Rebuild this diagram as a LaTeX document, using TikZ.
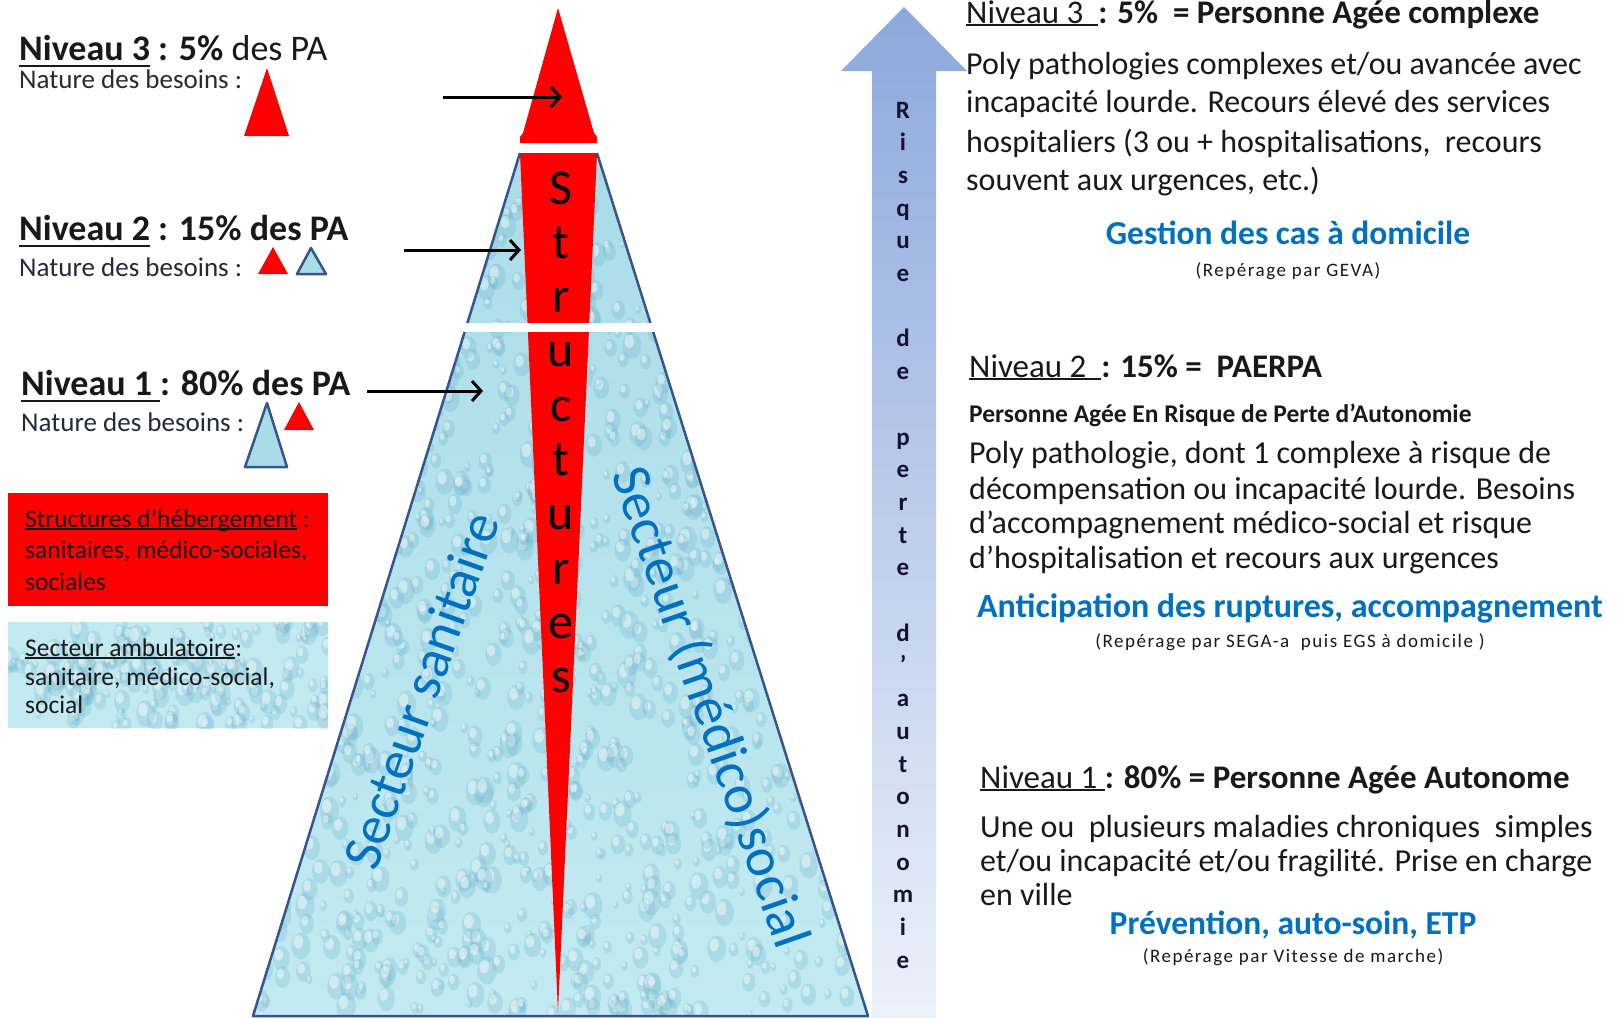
\documentclass[tikz,border=0pt]{standalone}
\usepackage{fontspec}
\setmainfont{Carlito}
\newfontfamily\spacedfont[LetterSpace=8]{Carlito}
\usetikzlibrary{arrows.meta}
\definecolor{offblue}{RGB}{0,112,192}
\definecolor{pyrline}{RGB}{55,85,140}
\definecolor{waterA}{RGB}{170,220,232}
\definecolor{waterB}{RGB}{195,234,242}
\definecolor{dropc}{RGB}{95,170,198}
\definecolor{txtc}{RGB}{25,25,25}
\definecolor{natc}{RGB}{40,40,60}
\definecolor{navyc}{RGB}{20,20,50}
\definecolor{arrA}{RGB}{140,168,220}
\definecolor{arrB}{RGB}{236,241,250}
\newsavebox\ulbox
\newcommand\myunder[2][0.2em]{\sbox\ulbox{#2}\rlap{\rule[-#1]{\wd\ulbox}{0.075em}}\usebox\ulbox}
\newcommand\fHead{\fontsize{33}{40}\selectfont}
\newcommand\fBody{\fontsize{32}{38}\selectfont}
\newcommand\fBlue{\bfseries\fontsize{33.5}{40}\selectfont}
\newcommand\fSmall{\spacedfont\fontsize{19}{23}\selectfont}
\newcommand\fLeft{\fontsize{36}{42}\selectfont}
\newcommand\fNat{\fontsize{27}{32}\selectfont}
\newcommand\fBox{\fontsize{25.5}{30}\selectfont}
\newcommand\fStruct{\fontsize{50}{60}\selectfont}
\newcommand\fRisk{\bfseries\fontsize{25}{30}\selectfont}
\newcommand\fSect{\fontsize{55}{64}\selectfont}
\newcommand\waterdrops[5]{%
 \foreach \k in {1,...,#5}{%
  \pgfmathsetmacro\dropx{#1+rnd*#3}%
  \pgfmathsetmacro\dropy{#2+rnd*#4}%
  \pgfmathsetmacro\dropr{4+rnd*10}%
  \fill[dropc,opacity=.22] (\dropx,\dropy) ellipse [x radius=0.7*\dropr, y radius=\dropr];
  \fill[white,opacity=.45] (\dropx-0.2*\dropr,\dropy-0.3*\dropr) ellipse [x radius=0.35*\dropr, y radius=0.5*\dropr];
 }}
\tikzset{
  lt/.style={inner sep=0pt, anchor=base west, text=txtc},
  ct/.style={inner sep=0pt, anchor=base, text=txtc},
  bluet/.style={ct, text=offblue, font=\fBlue},
  blkarrow/.style={line width=3pt, -{Straight Barb[length=9pt,width=20pt]}},
  tribox/.style={fill=waterA, draw=pyrline, line width=2.5pt, line join=round},
  strl/.style={inner sep=0pt, anchor=base, text=black, font=\fStruct},
  riskl/.style={inner sep=0pt, anchor=base, text=navyc, font=\fRisk},
  sect/.style={inner sep=0pt, text=offblue, font=\fSect}
}
\begin{document}
\begin{tikzpicture}[x=1pt,y=-1pt]
\useasboundingbox (0,0) rectangle (1617,1018);
\fill[white] (0,0) rectangle (1617,1018);
\pgfmathsetseed{7}
% ---------- pyramid ----------
\begin{scope}
  \clip (520,153) -- (597,153) -- (868,1016) -- (253,1016) -- cycle;
  \shade[top color=waterA, bottom color=waterB] (250,150) rectangle (870,1018);
  \waterdrops{253}{153}{615}{863}{1300}
\end{scope}
\fill[red] (520,153) -- (597,153) -- (558,1012) -- cycle;
\draw[pyrline, line width=2.5pt, line join=round] (520,153) -- (253,1016) -- (868,1016) -- (597,153);
\fill[white] (430,323) rectangle (690,332);
\fill[red] (558,8) -- (523,133) -- (520,137) -- (520,143) -- (597,143) -- (597,137) -- (594,133) -- cycle;
\foreach \ch [count=\k from 0] in {S,t,r,u,c,t,u,r,e,s}
  \node[strl] (st\k) at (561,{204+54.3*\k}) {\ch};
\node[sect, rotate=70.5] (sanit) at (421,690) {Secteur sanitaire};
\node[sect, rotate=-70.8] (medsoc) at (710,708) {Secteur (médico)social};
% ---------- risk arrow ----------
\shade[top color=arrA, bottom color=arrB] (872,1018) -- (872,71) -- (841,71) -- (904,7) -- (967,71) -- (936,71) -- (936,1018) -- cycle;
\foreach \k/\ch in {0/R,1/i,2/s,3/q,4/u,5/e,7/d,8/e,10/p,11/e,12/r,13/t,14/e,16/d,17/’,18/a,19/u,20/t,21/o,22/n,23/o,24/m,25/i,26/e}
  \node[riskl] (rk\k) at (903,{118+32.7*\k}) {\ch};
% ---------- left texts ----------
\node[lt, font=\fLeft] (l3h) at (19,60) {\textbf{\myunder{Niveau 3} : 5\%} des PA};
\node[lt, font=\fNat, text=natc] (l3n) at (19,88) {Nature des besoins :};
\node[lt, font=\fLeft] (l2h) at (19,240) {\textbf{\myunder{Niveau 2} : 15\% des PA}};
\node[lt, font=\fNat, text=natc] (l2n) at (19,276) {Nature des besoins :};
\node[lt, font=\fLeft] (l1h) at (21,395) {\textbf{\myunder{Niveau 1 }: 80\% des PA}};
\node[lt, font=\fNat, text=natc] (l1n) at (21,431) {Nature des besoins :};
% legend triangles
\fill[red] (267,68) -- (289,136) -- (244,136) -- cycle;
\fill[red] (273,247) -- (288,274) -- (258,274) -- cycle;
\filldraw[tribox] (311,248) -- (326,274) -- (297,274) -- cycle;
\filldraw[tribox] (267,403) -- (287,467) -- (245,467) -- cycle;
\fill[red] (299,402) -- (314,430) -- (284,430) -- cycle;
% arrows
\coordinate (a3s) at (443,97);  \coordinate (a3e) at (562,97);
\coordinate (a2s) at (404,250); \coordinate (a2e) at (521,250);
\coordinate (a1s) at (367,391); \coordinate (a1e) at (483,391);
\draw[blkarrow] (a3s) -- (a3e);
\draw[blkarrow] (a2s) -- (a2e);
\draw[blkarrow] (a1s) -- (a1e);
% legend boxes
\node[fill=red, inner sep=0pt, minimum width=320pt, minimum height=113pt, anchor=north west] (redbox) at (8,493) {};
\node[lt, font=\fBox] (rb1) at (25,527) {\myunder[0.12em]{Structures d’hébergement} :};
\node[lt, font=\fBox] (rb2) at (25,558) {sanitaires, médico-sociales,};
\node[lt, font=\fBox] (rb3) at (25,590) {sociales};
\node[fill=waterB, inner sep=0pt, minimum width=320pt, minimum height=106pt, anchor=north west] (ambbox) at (8,622) {};
\begin{scope}
  \clip (8,622) rectangle (328,728);
  \waterdrops{8}{622}{320}{106}{170}
\end{scope}
\node[lt, font=\fBox] (bb1) at (25,656) {\myunder[0.12em]{Secteur ambulatoire}:};
\node[lt, font=\fBox] (bb2) at (25,685) {sanitaire, médico-social,};
\node[lt, font=\fBox] (bb3) at (25,713) {social};
% ---------- right texts : level 3 ----------
\node[lt, font=\fHead] (r3h) at (966,23) {\myunder[0.1em]{Niveau 3\ \ }\textbf{: 5\%\ \ = Personne Agée complexe}};
\node[lt, font=\fBody] (r3l1) at (966,74) {Poly pathologies complexes et/ou avancée avec};
\node[lt, font=\fBody] (r3l2) at (966,112) {incapacité lourde. Recours élevé des services};
\node[lt, font=\fBody] (r3l3) at (966,152) {hospitaliers (3 ou + hospitalisations,\ \ recours};
\node[lt, font=\fBody] (r3l4) at (966,190) {souvent aux urgences, etc.)};
\node[bluet] (r3b) at (1288,244) {Gestion des cas à domicile};
\node[ct, font=\fSmall] (r3s) at (1288,276) {(Repérage par GEVA)};
% ---------- level 2 ----------
\node[lt, font=\fHead] (r2h) at (969,377) {\myunder[0.1em]{Niveau 2\ \ }\textbf{: 15\% =\ \ PAERPA}};
\node[lt, font=\bfseries\fontsize{25.5}{30}\selectfont] (r2p) at (969,422) {Personne Agée En Risque de Perte d’Autonomie};
\node[lt, font=\fBody] (r2l1) at (969,463) {Poly pathologie, dont 1 complexe à risque de};
\node[lt, font=\fBody] (r2l2) at (969,499) {décompensation ou incapacité lourde. Besoins};
\node[lt, font=\fBody] (r2l3) at (969,533) {d’accompagnement médico-social et risque};
\node[lt, font=\fBody] (r2l4) at (969,568) {d’hospitalisation et recours aux urgences};
\node[bluet, font=\bfseries\fontsize{34}{40}\selectfont] (r2b) at (1290,617) {Anticipation des ruptures, accompagnement};
\node[ct, font=\fSmall] (r2s) at (1290,647) {(Repérage par SEGA-a\ \ puis EGS à domicile )};
% ---------- level 1 ----------
\node[lt, font=\fHead] (r1h) at (980,788) {\myunder[0.1em]{Niveau 1 }\textbf{: 80\% = Personne Agée Autonome}};
\node[lt, font=\fBody] (r1l1) at (980,837) {Une ou\ \ plusieurs maladies chroniques\ \ simples};
\node[lt, font=\fBody] (r1l2) at (980,871) {et/ou incapacité et/ou fragilité. Prise en charge};
\node[lt, font=\fBody] (r1l3) at (980,905) {en ville};
\node[bluet] (r1b) at (1293,934) {Prévention, auto-soin, ETP};
\node[ct, font=\fSmall] (r1s) at (1293,962) {(Repérage par Vitesse de marche)};
\end{tikzpicture}
\end{document}
